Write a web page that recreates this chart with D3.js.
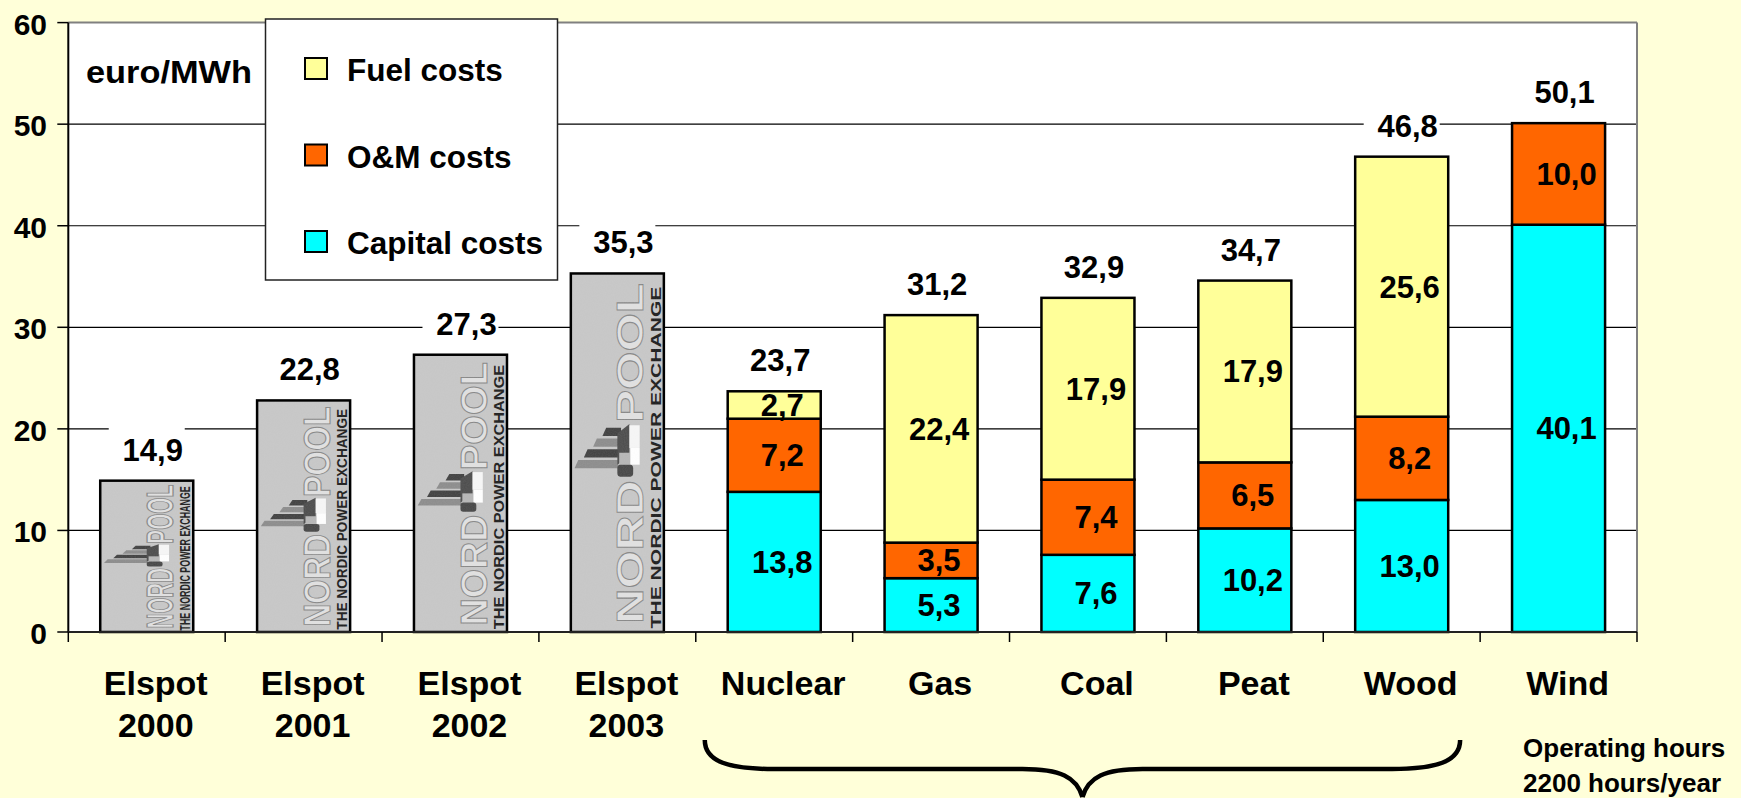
<!DOCTYPE html>
<html>
<head>
<meta charset="utf-8">
<script src="https://cdn.jsdelivr.net/npm/d3@7"></script>
<style>
  html, body { margin: 0; padding: 0; background: #FFFFD9; }
  svg { display: block; }
  text { font-family: "Liberation Sans", Arial, sans-serif; font-weight: bold; }
</style>
</head>
<body>
<svg id="chart" width="1741" height="798"></svg>
<script>
// ---------------- data ----------------
const categories = ["Elspot 2000", "Elspot 2001", "Elspot 2002", "Elspot 2003", "Nuclear", "Gas", "Coal", "Peat", "Wood", "Wind"];
const categoryLines = [["Elspot", "2000"], ["Elspot", "2001"], ["Elspot", "2002"], ["Elspot", "2003"], ["Nuclear"], ["Gas"], ["Coal"], ["Peat"], ["Wood"], ["Wind"]];
const elspotCategories = ["Elspot 2000", "Elspot 2001", "Elspot 2002", "Elspot 2003"];
const elspotPrices = [14.9, 22.8, 27.3, 35.3];
const plantCategories = ["Nuclear", "Gas", "Coal", "Peat", "Wood", "Wind"];
const capitalCosts = [13.8, 5.3, 7.6, 10.2, 13.0, 40.1];
const omCosts = [7.2, 3.5, 7.4, 6.5, 8.2, 10.0];
const fuelCosts = [2.7, 22.4, 17.9, 17.9, 25.6, 0];
const plantTotals = [23.7, 31.2, 32.9, 34.7, 46.8, 50.1];
const seriesNames = ["Capital costs", "O&M costs", "Fuel costs"];
const seriesColors = ["#00FFFF", "#FF6600", "#FFFF99"];
const legendOrder = ["Fuel costs", "O&M costs", "Capital costs"];
const yTicks = [0, 10, 20, 30, 40, 50, 60];
const unitLabel = "euro/MWh";
const noteLines = ["Operating hours", "2200 hours/year"];

// ---------------- layout ----------------
const svg = d3.select("#chart");
const W = 1741, H = 798;
const plot = { left: 68.3, right: 1637, top: 22.6, bottom: 632 };
const fmt = v => d3.format(".1f")(v).replace(".", ",");
const txtShift = 8;

svg.append("rect").attr("width", W).attr("height", H).attr("fill", "#FFFFD9");

const x = d3.scaleBand().domain(categories).range([plot.left, plot.right])
  .paddingInner(0.407).paddingOuter(0.2035);
const y = d3.scaleLinear().domain([0, 60]).range([plot.bottom, plot.top]);
const step = x.step(), bw = x.bandwidth(), gap = (step - bw) / 2;
const cx = c => x(c) + bw / 2;

// plot area
svg.append("rect").attr("x", plot.left).attr("y", y(60))
  .attr("width", plot.right - plot.left).attr("height", y(0) - y(60)).attr("fill", "#fff");

// gridlines
svg.append("g").selectAll("line").data(yTicks.filter(t => t > 0 && t < 60)).join("line")
  .attr("x1", plot.left).attr("x2", plot.right)
  .attr("y1", d => y(d)).attr("y2", d => y(d))
  .attr("stroke", "#000").attr("stroke-width", 1.2);

// top & right border (gray)
svg.append("line").attr("x1", plot.left).attr("x2", plot.right).attr("y1", y(60)).attr("y2", y(60))
  .attr("stroke", "#808080").attr("stroke-width", 2);
svg.append("line").attr("x1", plot.right).attr("x2", plot.right).attr("y1", y(60)).attr("y2", y(0))
  .attr("stroke", "#808080").attr("stroke-width", 2);

// label backgrounds (hide gridlines behind top labels)
const topLabels = elspotCategories.map((c, i) => ({ c, v: elspotPrices[i], top: elspotPrices[i] }))
  .concat(plantCategories.map((c, i) => ({ c, v: plantTotals[i], top: capitalCosts[i] + omCosts[i] + fuelCosts[i] })));
svg.append("g").selectAll("rect").data(topLabels).join("rect")
  .attr("x", d => cx(d.c) - 38).attr("width", 76)
  .attr("y", d => y(d.top) - 20 - 33).attr("height", 38)
  .attr("fill", "#fff");

// ---------------- Elspot bars (Nord Pool image bars) ----------------
const defs = svg.append("defs");
const flt = defs.append("filter").attr("id", "grain").attr("x", 0).attr("y", 0).attr("width", 1).attr("height", 1);
flt.append("feTurbulence").attr("type", "fractalNoise").attr("baseFrequency", 0.9).attr("numOctaves", 1).attr("result", "n");
flt.append("feColorMatrix").attr("in", "n").attr("type", "matrix")
  .attr("values", "0 0 0 0 0.76  0 0 0 0 0.76  0 0 0 0 0.76  0 0 0 0.12 0").attr("result", "g");
flt.append("feComposite").attr("in", "g").attr("in2", "SourceGraphic").attr("operator", "in");

const elspotG = svg.append("g");
elspotCategories.forEach((c, i) => {
  const x0 = x(c), y0 = y(elspotPrices[i]), h = y(0) - y(elspotPrices[i]);
  const g = elspotG.append("g");
  g.append("rect").attr("x", x0).attr("y", y0).attr("width", bw).attr("height", h).attr("fill", "#C6C6C6");
  const inner = g.append("g").attr("transform", `translate(${x0},${y0}) scale(${bw / 100},${h / 300})`);
  // NORD / POOL
  inner.append("text").attr("transform", "translate(78,293) rotate(-90)")
    .attr("font-size", 40).attr("font-family", "'Liberation Serif', serif").attr("font-weight", "normal")
    .attr("textLength", 120).attr("lengthAdjust", "spacingAndGlyphs")
    .attr("fill", "#E0E0E0").attr("stroke", "#858585").attr("stroke-width", 1)
    .style("vector-effect", "non-scaling-stroke")
    .text("NORD");
  inner.append("text").attr("transform", "translate(78,125) rotate(-90)")
    .attr("font-size", 40).attr("font-family", "'Liberation Serif', serif").attr("font-weight", "normal")
    .attr("textLength", 117).attr("lengthAdjust", "spacingAndGlyphs")
    .attr("fill", "#E0E0E0").attr("stroke", "#858585").attr("stroke-width", 1)
    .style("vector-effect", "non-scaling-stroke")
    .text("POOL");
  // logo: slanted stripes + block
  const stripes = [0, 1, 2, 3];
  inner.selectAll("polygon.s").data(stripes).join("polygon")
    .attr("points", d => {
      const yy = 129 + d * 9, xl = 34 - d * 10, xr = 54 - d * 1;
      return `${xl + 4},${yy} ${xr},${yy} ${xr},${yy + 7} ${xl},${yy + 7}`;
    })
    .attr("fill", d => d % 2 ? "#8a8a8a" : "#3e3e3e");
  inner.append("polygon").attr("points", "50,134 63,126 63,152 50,160").attr("fill", "#4a4a4a");
  inner.append("rect").attr("x", 63).attr("y", 127).attr("width", 11).attr("height", 19).attr("fill", "#f6f6f6");
  inner.append("rect").attr("x", 52).attr("y", 150).attr("width", 12).attr("height", 10).attr("fill", "#b5b5b5");
  inner.append("rect").attr("x", 64).attr("y", 146).attr("width", 10).attr("height", 14).attr("fill", "#ffffff");
  inner.append("rect").attr("x", 50).attr("y", 160).attr("width", 17).attr("height", 10).attr("rx", 3).attr("fill", "#444");
  inner.append("text").attr("transform", "translate(97,297) rotate(-90)")
    .attr("font-size", 16).attr("font-family", "'Liberation Serif', serif").attr("font-weight", "bold")
    .attr("textLength", 286).attr("lengthAdjust", "spacingAndGlyphs")
    .attr("fill", "#1a1a1a").text("THE NORDIC POWER EXCHANGE");
  g.append("rect").attr("x", x0).attr("y", y0).attr("width", bw).attr("height", h)
    .attr("fill", "#888").attr("filter", "url(#grain)");
  g.append("rect").attr("x", x0).attr("y", y0).attr("width", bw).attr("height", h)
    .attr("fill", "none").attr("stroke", "#000").attr("stroke-width", 2.5);
});

// ---------------- stacked plant bars ----------------
const table = plantCategories.map((c, i) => ({
  category: c, "Capital costs": capitalCosts[i], "O&M costs": omCosts[i], "Fuel costs": fuelCosts[i]
}));
const stacked = d3.stack().keys(seriesNames)(table);
const color = d3.scaleOrdinal().domain(seriesNames).range(seriesColors);

const segG = svg.append("g");
stacked.forEach(layer => {
  segG.append("g").selectAll("rect").data(layer.filter(d => d[1] - d[0] > 0)).join("rect")
    .attr("x", d => x(d.data.category)).attr("width", bw)
    .attr("y", d => y(d[1])).attr("height", d => y(d[0]) - y(d[1]))
    .attr("fill", color(layer.key)).attr("stroke", "#000").attr("stroke-width", 2.5);
});
stacked.forEach(layer => {
  segG.append("g").selectAll("text").data(layer.filter(d => d[1] - d[0] > 0)).join("text")
    .attr("x", d => cx(d.data.category) + txtShift)
    .attr("y", d => (y(d[0]) + y(d[1])) / 2 + 11)
    .attr("text-anchor", "middle").attr("font-size", 31).attr("fill", "#000")
    .text(d => fmt(d[1] - d[0]));
});

// top value labels
svg.append("g").selectAll("text").data(topLabels).join("text")
  .attr("x", d => cx(d.c) + txtShift - 2).attr("y", d => y(d.top) - 20)
  .attr("text-anchor", "middle").attr("font-size", 31).attr("fill", "#000")
  .text(d => fmt(d.v));

// ---------------- axes ----------------
svg.append("line").attr("x1", plot.left).attr("x2", plot.left).attr("y1", y(60)).attr("y2", y(0))
  .attr("stroke", "#000").attr("stroke-width", 2);
const yt = svg.append("g").selectAll("g").data(yTicks).join("g");
yt.append("line").attr("x1", plot.left - 11).attr("x2", plot.left).attr("y1", d => y(d)).attr("y2", d => y(d))
  .attr("stroke", "#000").attr("stroke-width", 1.5);
yt.append("text").attr("x", 47).attr("y", d => y(d) + 12).attr("text-anchor", "end")
  .attr("font-size", 30).attr("fill", "#000").text(d => d);

svg.append("line").attr("x1", plot.left).attr("x2", plot.right).attr("y1", y(0)).attr("y2", y(0))
  .attr("stroke", "#222").attr("stroke-width", 2);
const boundaries = categories.map(c => x(c) - gap).concat([x(categories[categories.length - 1]) + bw + gap]);
svg.append("g").selectAll("line").data(boundaries).join("line")
  .attr("x1", d => d).attr("x2", d => d).attr("y1", y(0)).attr("y2", y(0) + 10)
  .attr("stroke", "#000").attr("stroke-width", 1.5);

const catG = svg.append("g").selectAll("text").data(categories).join("text")
  .attr("text-anchor", "middle").attr("font-size", 34).attr("fill", "#000");
catG.each(function (c, i) {
  d3.select(this).selectAll("tspan").data(categoryLines[i]).join("tspan")
    .attr("x", cx(c) + txtShift + 1).attr("y", (d, j) => 695 + j * 42).text(d => d);
});

// unit label
svg.append("text").attr("x", 86).attr("y", 83).attr("font-size", 31)
  .attr("textLength", 166).attr("lengthAdjust", "spacingAndGlyphs").attr("fill", "#000").text(unitLabel);

// ---------------- legend ----------------
const lg = svg.append("g");
lg.append("rect").attr("x", 265.5).attr("y", 19).attr("width", 292).attr("height", 261)
  .attr("fill", "#fff").attr("stroke", "#222").attr("stroke-width", 1.5);
const li = lg.selectAll("g.item").data(legendOrder).join("g")
  .attr("transform", (d, i) => `translate(0,${i * 86.5})`);
li.append("rect").attr("x", 305).attr("y", 58).attr("width", 22).attr("height", 21)
  .attr("fill", d => color(d)).attr("stroke", "#000").attr("stroke-width", 2);
li.append("text").attr("x", 347).attr("y", 81).attr("font-size", 31.5).attr("fill", "#000").text(d => d);

// ---------------- brace & note ----------------
const bx0 = x("Nuclear") - gap + 9;
const bx1 = x("Wood") + bw + gap - 20;
const bc = (bx0 + bx1) / 2;
const by0 = 740, by1 = 769, by2 = 797;
const p = d3.path();
p.moveTo(bx0, by0);
p.bezierCurveTo(bx0, by0 + 22, bx0 + 25, by1, bx0 + 68, by1);
p.lineTo(bc - 60, by1);
p.bezierCurveTo(bc - 22, by1, bc - 6, by1 + 8, bc, by2);
p.moveTo(bx1, by0);
p.bezierCurveTo(bx1, by0 + 22, bx1 - 25, by1, bx1 - 68, by1);
p.lineTo(bc + 60, by1);
p.bezierCurveTo(bc + 22, by1, bc + 6, by1 + 8, bc, by2);
svg.append("path").attr("d", p.toString()).attr("fill", "none").attr("stroke", "#000").attr("stroke-width", 4.5);

svg.append("g").selectAll("text").data(noteLines).join("text")
  .attr("x", x("Wind") + 11).attr("y", (d, i) => 757 + i * 35)
  .attr("font-size", 26).attr("fill", "#000").text(d => d);
</script>
</body>
</html>
